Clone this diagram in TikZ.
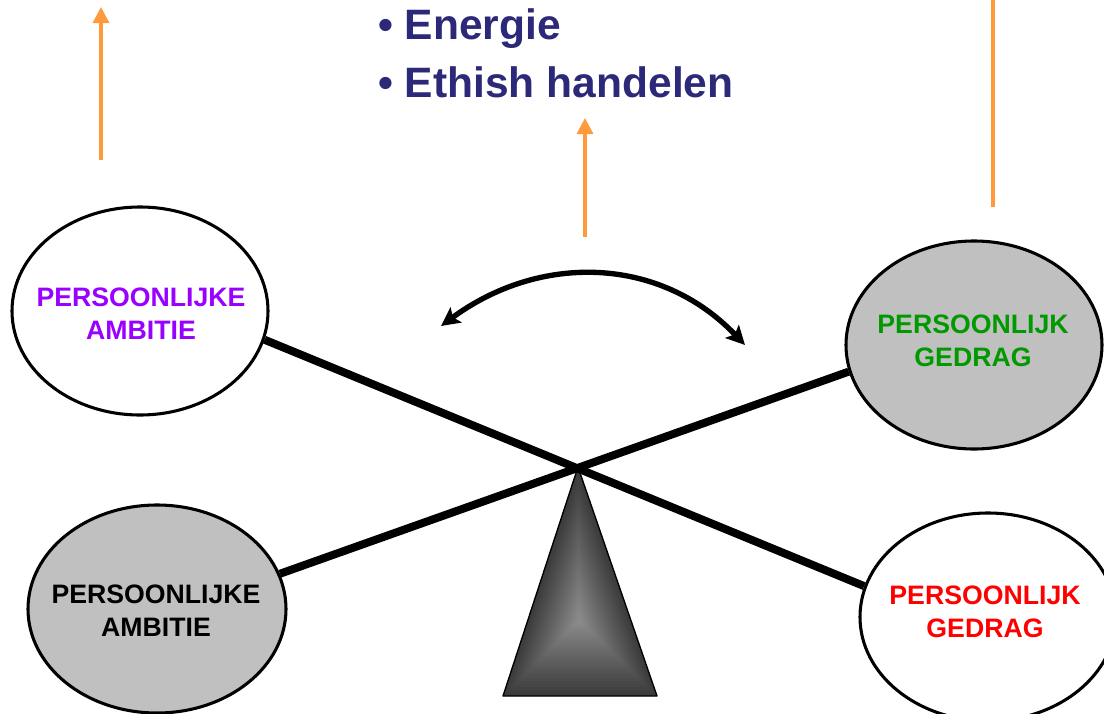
\documentclass[tikz,border=0pt]{standalone}
\usepackage{fontspec}
\setmainfont{Liberation Sans}
\usetikzlibrary{arrows.meta,backgrounds,calc,shapes.geometric}
\definecolor{navy}{RGB}{43,41,120}
\definecolor{orangeA}{RGB}{255,154,60}
\definecolor{purpleT}{RGB}{153,0,255}
\definecolor{greenT}{RGB}{0,153,0}
\definecolor{redT}{RGB}{255,0,0}
\definecolor{fillgray}{RGB}{192,192,192}
\tikzset{
  ell/.style={ellipse, draw=black, line width=2.3pt, inner sep=0pt,
              minimum width=192pt, minimum height=156pt},
  lbl/.style={align=center, inner sep=0pt,
              font=\fontsize{20}{24.75}\selectfont\bfseries},
  beam/.style={line width=6pt, black},
  orarrow/.style={draw=orangeA, line width=2.3pt, -{Triangle[length=12pt,width=12pt]}},
  orline/.style={draw=orangeA, line width=2.3pt},
  swing/.style={line width=4pt, black, {Stealth[length=14pt,width=14pt,inset=3pt]}-{Stealth[length=14pt,width=14pt,inset=3pt]}},
  title/.style={anchor=base west, inner sep=0pt, text=navy,
                font=\fontsize{31.9}{38}\selectfont\bfseries}
}
\begin{document}
\begin{tikzpicture}[x=0.75pt,y=-0.75pt]
\useasboundingbox (0,0) rectangle (1104,714);

% ellipses
\node[ell, fill=white]    (tl) at (140,311) {};
\node[ell, fill=fillgray] (tr) at (974,345) {};
\node[ell, fill=fillgray, minimum width=193.5pt] (bl) at (157,609) {};
\node[ell, fill=white]    (br) at (988,617) {};

\node[lbl, text=purpleT] (tlt) at (141,314) {PERSOONLIJKE\\AMBITIE};
\node[lbl, text=greenT]  (trt) at (973,341) {PERSOONLIJK\\GEDRAG};
\node[lbl, text=black]   (blt) at (156,611) {PERSOONLIJKE\\AMBITIE};
\node[lbl, text=redT]    (brt) at (985,612) {PERSOONLIJK\\GEDRAG};

% pivot and fulcrum
\coordinate (pv) at (578,467);
\coordinate (fl) at (503,696);
\coordinate (fr) at (657,696);
\coordinate (fc) at (579,620);

\begin{pgfonlayer}{background}
  \foreach \i in {0,...,24}{
    \pgfmathsetmacro{\s}{1-\i/25}
    \pgfmathsetmacro{\k}{77-\i*1.3}
    \fill[black!\k] ($(fc)!\s!(pv)$) -- ($(fc)!\s!(fl)$) -- ($(fc)!\s!(fr)$) -- cycle;
  }
  \draw[black, line width=1pt, line join=round] (pv) -- (fl) -- (fr) -- cycle;
  \draw[beam] (tl.-13) -- (br.166);
  \draw[beam] (bl.16.7) -- (tr.-168.6);
\end{pgfonlayer}

% swinging double arrow
\coordinate (ca) at (441,326);
\coordinate (cb) at (745,345);
\draw[swing] (ca) .. controls (540,253) and (660,256) .. (cb);

% orange arrows
\coordinate (o1s) at (101,160);
\coordinate (o1e) at (101,7);
\coordinate (o2s) at (585,237);
\coordinate (o2e) at (585,118);
\coordinate (o3s) at (993,207);
\coordinate (o3e) at (993,0);
\draw[orarrow] (o1s) -- (o1e);
\draw[orarrow] (o2s) -- (o2e);
\draw[orline] (o3s) -- (o3e);

% title bullets
\node[title] (t1) at (378,39) {• Energie};
\node[title] (t2) at (378,97) {• Ethish handelen};
\end{tikzpicture}
\end{document}
